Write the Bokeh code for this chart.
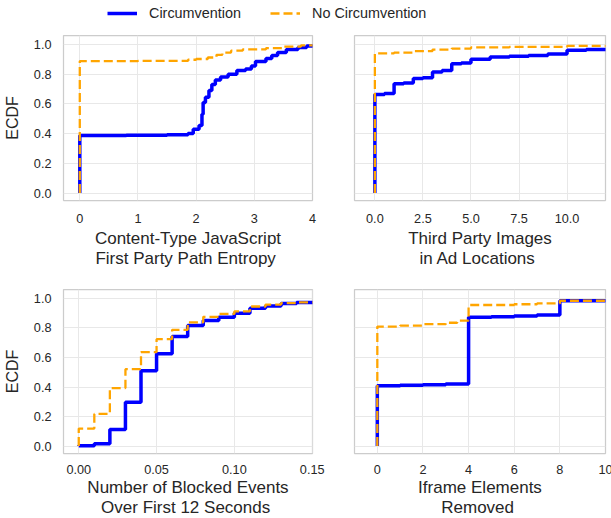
from bokeh.plotting import figure
from bokeh.layouts import column, row
from bokeh.models import Range1d, FixedTicker, NumeralTickFormatter, Legend, LegendItem
from bokeh.embed import file_html
from bokeh.resources import INLINE

# ---------------- data (ECDF step points) ----------------
SERIES = ["Circumvention", "No Circumvention"]

# Panel 1: Content-Type JavaScript First Party Path Entropy
p1_circ_x = [0, 0, 0.8, 1.5, 1.86, 1.95, 2.05, 2.1, 2.12, 2.16, 2.22, 2.27, 2.33, 2.42, 2.55, 2.7, 2.85, 2.95, 3.02, 3.2, 3.3, 3.4, 3.55, 3.75, 3.9, 4.1]
p1_circ_y = [0, 0.387, 0.389, 0.392, 0.40, 0.43, 0.455, 0.53, 0.61, 0.645, 0.69, 0.73, 0.76, 0.78, 0.80, 0.825, 0.835, 0.855, 0.885, 0.905, 0.925, 0.945, 0.965, 0.98, 0.99, 1.0]
p1_none_x = [0, 0, 1.0, 1.86, 2.0, 2.2, 2.35, 2.45, 2.6, 2.8, 3.2, 3.5, 3.8, 4.1]
p1_none_y = [0, 0.888, 0.889, 0.897, 0.902, 0.912, 0.93, 0.945, 0.958, 0.966, 0.975, 0.985, 0.993, 1.0]
p1_ticks = [0, 1, 2, 3, 4]

# Panel 2: Third Party Images in Ad Locations
p2_circ_x = [0, 0, 0.5, 1, 1.5, 2, 2.5, 3, 3.5, 4, 4.5, 5, 6, 7, 8, 9, 10, 11, 12.5]
p2_circ_y = [0, 0.663, 0.67, 0.735, 0.74, 0.77, 0.775, 0.815, 0.825, 0.87, 0.875, 0.9, 0.915, 0.92, 0.925, 0.935, 0.96, 0.965, 0.97]
p2_none_x = [0, 0, 1, 2, 3, 4, 5, 7, 10, 12.5]
p2_none_y = [0, 0.94, 0.945, 0.955, 0.965, 0.972, 0.98, 0.984, 0.99, 0.993]
p2_ticks = [0, 2.5, 5, 7.5, 10]

# Panel 3: Number of Blocked Events Over First 12 Seconds
p3_circ_x = [0, 0, 0.01, 0.02, 0.03, 0.04, 0.05, 0.06, 0.07, 0.08, 0.09, 0.10, 0.11, 0.12, 0.13, 0.14, 0.16]
p3_circ_y = [0, 0.002, 0.016, 0.112, 0.297, 0.51, 0.625, 0.742, 0.816, 0.85, 0.873, 0.899, 0.933, 0.948, 0.966, 0.972, 0.975]
p3_none_x = [0, 0, 0.01, 0.02, 0.03, 0.04, 0.05, 0.06, 0.07, 0.08, 0.09, 0.10, 0.11, 0.12, 0.13, 0.14, 0.16]
p3_none_y = [0, 0.119, 0.218, 0.393, 0.521, 0.636, 0.724, 0.787, 0.838, 0.875, 0.895, 0.912, 0.945, 0.958, 0.968, 0.973, 0.976]
p3_ticks = [0, 0.05, 0.10, 0.15]

# Panel 4: Iframe Elements Removed
p4_circ_x = [0, 0, 1, 2, 3, 4, 5, 6, 7, 8, 10.5]
p4_circ_y = [0, 0.409, 0.412, 0.415, 0.42, 0.872, 0.876, 0.88, 0.888, 0.984, 0.984]
p4_none_x = [0, 0, 1, 2, 3, 3.5, 4, 6, 7, 8, 10.5]
p4_none_y = [0, 0.809, 0.815, 0.825, 0.835, 0.849, 0.955, 0.96, 0.966, 0.984, 0.984]
p4_ticks = [0, 2, 4, 6, 8, 10]

X_LABELS = [
    "Content-Type JavaScript\n First Party Path Entropy",
    "Third Party Images\n in Ad Locations",
    "Number of Blocked Events\n Over First 12 Seconds",
    "Iframe Elements\n Removed",
]
Y_LABEL = "ECDF"
Y_TICKS = [0, 0.2, 0.4, 0.6, 0.8, 1.0]

# ---------------- styles ----------------
FONT = "Liberation Sans"
TXT = "#262626"
BLUE = "#0000ff"
ORANGE = "#ffa500"
GRID = "#e8e8e8"
FRAME = "#cccccc"


def panel(cx, cy, nx, ny, xr, ticks, fmt, xlabel, left, fw, fh, bl, br, bt, bb, lso, aso):
    p = figure(frame_width=fw, frame_height=fh,
               min_border_left=bl, min_border_right=br,
               min_border_top=bt, min_border_bottom=bb,
               x_range=Range1d(*xr), y_range=Range1d(-0.05, 1.06),
               output_backend="svg", toolbar_location=None,
               background_fill_color="white", border_fill_color="white")
    p.outline_line_color = FRAME
    p.outline_line_width = 1.25
    p.xgrid.grid_line_color = GRID
    p.ygrid.grid_line_color = GRID
    p.xaxis.ticker = FixedTicker(ticks=ticks)
    p.yaxis.ticker = FixedTicker(ticks=Y_TICKS)
    p.xaxis.formatter = NumeralTickFormatter(format=fmt)
    p.yaxis.formatter = NumeralTickFormatter(format="0.0")
    for ax in (p.xaxis[0], p.yaxis[0]):
        ax.axis_line_color = None
        ax.major_tick_line_color = None
        ax.minor_tick_line_color = None
        ax.major_tick_out = 0
        ax.major_tick_in = 0
        ax.major_label_text_font = FONT
        ax.major_label_text_font_size = "12.7px"
        ax.major_label_text_color = TXT
        ax.axis_label_text_font = FONT
        ax.axis_label_text_font_style = "normal"
        ax.axis_label_text_color = TXT
    p.xaxis.axis_label_text_font_size = "17px"
    p.xaxis.axis_label_text_line_height = 1.1
    p.yaxis.axis_label_text_font_size = "16px"
    p.xaxis.major_label_standoff = lso
    p.xaxis.axis_label_standoff = aso
    p.xaxis.axis_label = xlabel
    p.yaxis.major_label_standoff = 12
    p.yaxis.axis_label_standoff = 10
    if left:
        p.yaxis.axis_label = Y_LABEL
    else:
        p.yaxis.visible = False
    p.step(cx, cy, mode="after", line_color=BLUE, line_width=3.5)
    p.step(nx, ny, mode="after", line_color=ORANGE, line_width=2.3, line_dash="9 4")
    return p


tl = panel(p1_circ_x, p1_circ_y, p1_none_x, p1_none_y, (-0.28, 4.0), p1_ticks, "0", X_LABELS[0], True,
           249, 165, 62, 21, 5, 79, 13, 3)
tr = panel(p2_circ_x, p2_circ_y, p2_none_x, p2_none_y, (-1.06, 12.0), p2_ticks, "0.0", X_LABELS[1], False,
           251, 165, 21, 7, 5, 79, 13, 3)
bl = panel(p3_circ_x, p3_circ_y, p3_none_x, p3_none_y, (-0.0098, 0.1502), p3_ticks, "0.00", X_LABELS[2], True,
           249, 164, 62, 21, 10, 65, 11, 1)
br = panel(p4_circ_x, p4_circ_y, p4_none_x, p4_none_y, (-1.0, 10.0), p4_ticks, "0", X_LABELS[3], False,
           251, 164, 21, 7, 10, 65, 11, 1)

# legend strip: proxy renderers kept outside the visible range of the strip
leg = figure(width=611, height=30, min_border=0, toolbar_location=None, output_backend="svg",
             x_axis_location=None, y_axis_location=None, x_range=Range1d(0, 1), y_range=Range1d(0, 1))
leg.outline_line_color = None
leg.grid.visible = False
r1 = leg.line(x=[-3, -2], y=[-3, -3], line_color=BLUE, line_width=3.5)
r2 = leg.line(x=[-3, -2], y=[-3, -3], line_color=ORANGE, line_width=2.3, line_dash="9 4")
legend = Legend(items=[LegendItem(label=SERIES[0], renderers=[r1]),
                       LegendItem(label=SERIES[1], renderers=[r2])],
                orientation="horizontal", location=(107, 7), glyph_width=30, glyph_height=20,
                label_standoff=12, spacing=29, padding=0, margin=0,
                border_line_color=None, background_fill_alpha=0,
                label_text_font=FONT, label_text_font_size="14.4px", label_text_color=TXT)
leg.add_layout(legend, "center")

layout = column(leg, row(tl, tr), row(bl, br))
open("out.html", "w").write(file_html(layout, INLINE))
